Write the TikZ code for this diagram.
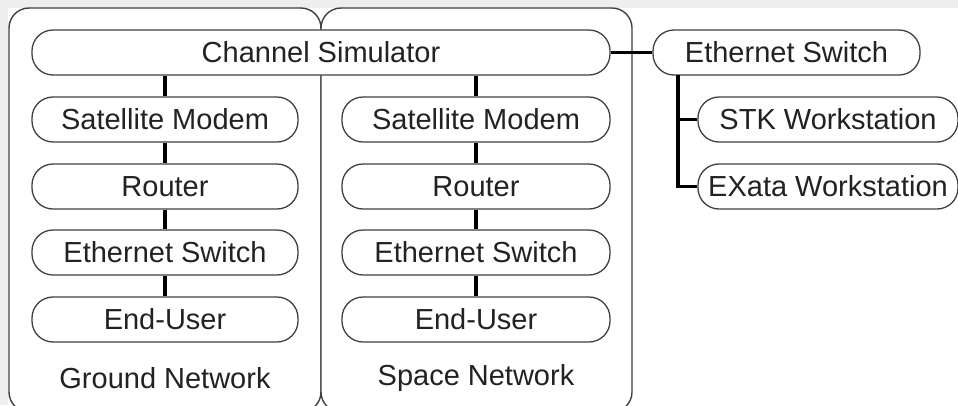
\documentclass[tikz,border=0pt]{standalone}
\usepackage{fontspec}
\setmainfont{Liberation Sans}
\definecolor{bggray}{HTML}{EEEEEE}
\definecolor{edge}{HTML}{404040}
\definecolor{txt}{HTML}{222222}
\begin{document}
\begin{tikzpicture}[x=1pt,y=-1pt,
  unit/.style={draw=edge, line width=1.3pt, fill=white, rounded corners=21pt,
    minimum height=45pt, inner sep=0pt, text=txt,
    font=\fontsize{29}{34}\selectfont},
  group/.style={draw=edge, line width=1.4pt, fill=white, rounded corners=20pt},
  link/.style={line width=3.2pt, black},
  caption/.style={inner sep=0pt, text=txt, font=\fontsize{29}{34}\selectfont}]
\useasboundingbox (0,0) rectangle (958,405);
\clip (0,0) rectangle (958,405);
\fill[bggray] (0,0) rectangle (958,405);
\fill[white] (8,8) rectangle (958,405);
% containers
\draw[group] (9,8) rectangle (321,412);
\draw[group] (321,8) rectangle (632,412);
% nodes
\node[unit, minimum width=578pt] (cs) at (321,52.5) {Channel Simulator};
\node[unit, minimum width=266pt] (gsm) at (165,119.5) {Satellite Modem};
\node[unit, minimum width=266pt] (gr) at (165,186.5) {Router};
\node[unit, minimum width=266pt] (ges) at (165,252.5) {Ethernet Switch};
\node[unit, minimum width=266pt] (geu) at (165,319.5) {End-User};
\node[unit, minimum width=268pt] (ssm) at (476,119.5) {Satellite Modem};
\node[unit, minimum width=268pt] (sr) at (476,186.5) {Router};
\node[unit, minimum width=268pt] (ses) at (476,252.5) {Ethernet Switch};
\node[unit, minimum width=268pt] (seu) at (476,319.5) {End-User};
\node[caption] (gn) at (165,378) {Ground Network};
\node[caption] (sn) at (476,378) {Space Network};
\node[unit, minimum width=267pt] (es) at (786.5,52.5) {Ethernet Switch};
\node[unit, minimum width=260pt] (stk) at (828,119.5) {STK Workstation};
\node[unit, minimum width=260pt] (exa) at (828,186.5) {EXata Workstation};
\coordinate (bus) at (678,75);
% connectors
\draw[link] (cs.south -| gsm) -- (gsm.north);
\draw[link] (gsm.south) -- (gr.north);
\draw[link] (gr.south) -- (ges.north);
\draw[link] (ges.south) -- (geu.north);
\draw[link] (cs.south -| ssm) -- (ssm.north);
\draw[link] (ssm.south) -- (sr.north);
\draw[link] (sr.south) -- (ses.north);
\draw[link] (ses.south) -- (seu.north);
\draw[link] (cs.east) -- (es.west);
\draw[link] (bus) |- (exa.west);
\draw[link] (bus |- stk.west) -- (stk.west);
\end{tikzpicture}
\end{document}
